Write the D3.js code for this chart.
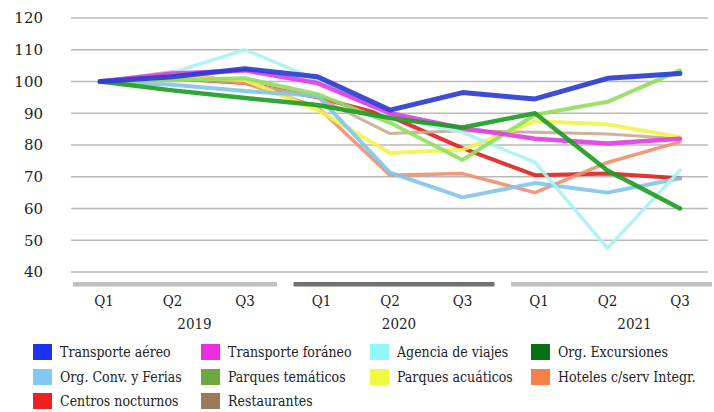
<!DOCTYPE html>
<html><head><meta charset="utf-8">
<script src="https://cdn.jsdelivr.net/npm/d3@7"></script>
<style>
body{margin:0;background:#fff;}
svg{display:block;}
.cond{font-family:"DejaVu Serif Condensed","DejaVu Serif",serif;font-stretch:condensed;}
</style></head>
<body><svg id="c" width="714" height="412"></svg>
<script>
const quarters = ["Q1","Q2","Q3","Q1","Q2","Q3","Q1","Q2","Q3"];
const years = ["2019","2020","2021"];
const yTicks = [40,50,60,70,80,90,100,110,120];

const seriesNames = ["Transporte aéreo","Transporte foráneo","Agencia de viajes","Org. Excursiones",
  "Org. Conv. y Ferias","Parques temáticos","Parques acuáticos","Hoteles c/serv Integr.",
  "Centros nocturnos","Restaurantes"];
const transporteAereo   = [100,101.5,104,101.5,91,96.5,94.5,101,102.5];
const transporteForaneo = [100,102.5,103.5,99.5,90,85.3,82,80.5,82];
const agenciaViajes     = [100,102.8,110,100.5,89,84,74.5,47.5,72];
const orgExcursiones    = [100,97.2,94.8,92.6,88.5,85.5,90,72,60];
const orgConvFerias     = [100,99,97,95.5,71.3,63.5,68,65,69.5];
const parquesTematicos  = [100,100.5,101,96,87,75.3,89.5,93.6,103.5];
const parquesAcuaticos  = [100,101.5,100.5,91,77.5,78.5,87.5,86.5,82.5];
const hoteles           = [100,103,99.5,92,70.5,71,65,74.5,81];
const centrosNocturnos  = [100,101,99.5,95,89,79,70.5,71,69.5];
const restaurantes      = [100,101,99.5,95,83.6,84.5,84,83.5,82];
const seriesValues = [transporteAereo,transporteForaneo,agenciaViajes,orgExcursiones,orgConvFerias,
  parquesTematicos,parquesAcuaticos,hoteles,centrosNocturnos,restaurantes];

const legendColors = ["#1f2ff5","#e82ee0","#90f8f8","#0a6e14","#80c8f8","#70a840","#f0f840","#f88048","#f02020","#9a7a5a"];
const lineColors   = ["#2c3cd2","#e040e4","#aaf2f2","#1f9e24","#84c6ea","#92de62","#f2f250","#f0906c","#e02222","#c8ac92"];
const lineWidths   = [5,4.5,3.5,4.5,4,4,4,3.5,4,3];
const drawOrder    = [8,9,7,6,4,2,5,1,3,0];

const svg = d3.select("#c");
const x = d3.scalePoint().domain(d3.range(quarters.length)).range([100,680]);
const y = d3.scaleLinear().domain([40,120]).range([272,18]);

// grid
svg.append("g").selectAll("line").data(yTicks).join("line")
  .attr("x1",71).attr("x2",708).attr("y1",d=>y(d)).attr("y2",d=>y(d))
  .attr("stroke","#b9b9b9").attr("stroke-width",1.5);
svg.append("g").selectAll("text").data(yTicks).join("text")
  .attr("x",43).attr("y",d=>y(d)).attr("dy","0.35em").attr("text-anchor","end")
  .attr("font-family","DejaVu Serif, serif").attr("font-size",15).attr("fill","#222")
  .text(d=>d);

// group bars
const groupBarColors = ["#c0c0c0","#707070","#c0c0c0"];
const barLeftPad = [27,24,24];
years.forEach((yr,i)=>{
  const x0 = x(i*3)-barLeftPad[i], x1 = Math.min(x(i*3+2)+32, 714);
  svg.append("rect").attr("x",x0).attr("y",282).attr("width",x1-x0).attr("height",4.5).attr("fill",groupBarColors[i]);
});
const yearOffsets = [22,9,27];
svg.append("g").attr("class","cond").selectAll("text").data(years).join("text")
  .attr("x",(d,i)=>x(i*3+1)+yearOffsets[i]).attr("y",324).attr("dy","0.35em")
  .attr("text-anchor","middle").attr("font-size",15).attr("fill","#222").text(d=>d);
svg.append("g").attr("class","cond").selectAll("text").data(quarters).join("text")
  .attr("x",(d,i)=>x(i)+ (i%3===0?4:0)).attr("y",301).attr("dy","0.35em")
  .attr("text-anchor","middle").attr("font-size",15).attr("fill","#222").text(d=>d);

// blur filter for soft look
const defs = svg.append("defs");
defs.append("filter").attr("id","soft").attr("x","-5%").attr("y","-5%").attr("width","110%").attr("height","110%")
  .append("feGaussianBlur").attr("stdDeviation",0.6);

const line = d3.line().x((d,i)=>x(i)).y(d=>y(d));
const lg = svg.append("g").attr("filter","url(#soft)");
drawOrder.forEach(k=>{
  lg.append("path").datum(seriesValues[k]).attr("d",line)
    .attr("fill","none").attr("stroke",lineColors[k]).attr("stroke-width",lineWidths[k])
    .attr("stroke-linejoin","round").attr("stroke-linecap","round").attr("opacity",0.92);
});

// legend
const colX = [33,201,370,531];
const rowY = [344,369,393];
const leg = svg.append("g").attr("class","cond");
seriesNames.forEach((n,i)=>{
  const c = i%4, r = Math.floor(i/4);
  leg.append("rect").attr("x",colX[c]).attr("y",rowY[r]).attr("width",19).attr("height",16).attr("fill",legendColors[i]);
  leg.append("text").attr("x",colX[c]+27).attr("y",rowY[r]+8).attr("dy","0.35em")
    .attr("font-size",14).attr("fill","#222").text(n);
});
</script></body></html>
